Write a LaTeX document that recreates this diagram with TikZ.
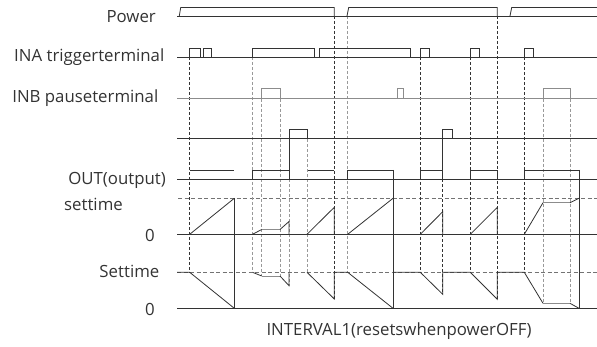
\documentclass[tikz,border=0pt]{standalone}
\usepackage{fontspec}
\setmainfont{Open Sans}
\usepackage{tikz}

\begin{document}
\begin{tikzpicture}[x=1pt, y=-1pt,
  sig/.style={black!80, line width=0.8pt},
  sigg/.style={black!45, line width=0.8pt},
  guide/.style={black!80, line width=0.6pt, dash pattern=on 3pt off 2pt},
  guideg/.style={black!40, line width=0.6pt, dash pattern=on 3pt off 2pt},
  level/.style={black!55, line width=0.7pt, dash pattern=on 4pt off 2.5pt},
  lbl/.style={font=\fontsize{16.8}{19}\selectfont, text=black!80, inner sep=0pt}]
  \useasboundingbox (0,0) rectangle (597,347);
  \node[lbl, anchor=east] (power) at (156,17) {Power};
  \node[lbl, anchor=east] (ina) at (164.5,57) {INA triggerterminal};
  \node[lbl, anchor=east] (inb) at (158.5,98) {INB pauseterminal};
  \node[lbl, anchor=east] (out) at (166,180) {OUT(output)};
  \node[lbl, anchor=west] (settop) at (64,204) {settime};
  \node[lbl, anchor=east] (zerotop) at (155,235) {0};
  \node[lbl, anchor=east] (setbot) at (159.5,271) {Settime};
  \node[lbl, anchor=east] (zerobot) at (155,309) {0};
  \node[lbl] (mode) at (399,331) {INTERVAL1(resetswhenpowerOFF)};
  \draw[level] (178,198.3) -- (597,198.3);
  \draw[level] (177,272.3) -- (597,272.3);
  \draw[guide] (189.7,57) -- (189.7,272.3);
  \draw[guideg] (252.5,57) -- (252.5,272.3);
  \draw[guideg] (261.7,88.7) -- (261.7,276);
  \draw[guideg] (280,88.7) -- (280,276);
  \draw[guideg] (289,179.3) -- (289,285.7);
  \draw[guideg] (307,129.5) -- (307,272.3);
  \draw[guide] (334.3,16) -- (334.3,299);
  \draw[guideg] (347.7,16) -- (347.7,272.3);
  \draw[guide] (420.3,57) -- (420.3,272.3);
  \draw[guide] (442.7,179.3) -- (442.7,294.3);
  \draw[guide] (470.3,57) -- (470.3,272.3);
  \draw[guide] (497.3,16) -- (497.3,299.3);
  \draw[guide] (524.3,57) -- (524.3,272.3);
  \draw[guideg] (543,88.7) -- (543,303.3);
  \draw[guideg] (570,88.7) -- (570,303.3);
  \draw[sig] (177,16) -- (597,16);
  \draw[sig] (179.3,16) -- (180.7,7.5) -- (334.3,7.5) -- (334.3,16);
  \draw[sig] (347,16) -- (348.7,7.5) -- (497.3,7.5) -- (497.3,16);
  \draw[sig] (510,16) -- (511.7,7.5) -- (597,7.5);
  \draw[sig] (177,57) -- (597,57);
  \draw[sig] (189.7,57) |- (200.7,48.3) -- (200.7,57);
  \draw[sig] (203.7,57) |- (211.3,48.3) -- (211.3,57);
  \draw[sig] (252.5,57) |- (314.3,48.3) -- (314.3,57) -- (319,57) |- (410,48.3) -- (410,57);
  \draw[sig] (420.3,57) |- (429.7,48.3) -- (429.7,57);
  \draw[sig] (470.3,57) |- (479.3,48.3) -- (479.3,57);
  \draw[sig] (524.3,57) |- (533.7,48.3) -- (533.7,57);
  \draw[sigg] (177,98) -- (597,98);
  \draw[sigg] (261.7,98) |- (280,88.7) -- (280,98);
  \draw[sigg] (397.7,98) |- (403.3,88.7) -- (403.3,98);
  \draw[sigg] (543,98) |- (570,88.7) -- (570,98);
  \draw[sig] (177,138.3) -- (597,138.3);
  \draw[sig] (289,179.3) |- (307,129.5) -- (307,138.3);
  \draw[sig] (442.7,179.3) |- (452.3,129.5) -- (452.3,138.3);
  \draw[sig] (177,179.3) -- (597,179.3);
  \draw[sig] (189.7,170) -- (234.3,170);
  \draw[sig] (252.5,179.3) |- (289,170) -- (289,179.3);
  \draw[sig] (308.3,170) -- (334.3,170);
  \draw[sig] (347.7,179.3) |- (393,170);
  \draw[sig] (420.3,179.3) |- (442.7,170);
  \draw[sig] (470.3,179.3) |- (497.3,170) -- (497.3,179.3);
  \draw[sig] (524.3,179.3) |- (579,170);
  \draw[sig] (234.3,198.3) -- (234.3,308.3);
  \draw[sig] (393,170) -- (393,308.3);
  \draw[sig] (579,170) -- (579,308.3);
  \draw[sig] (177,234.3) -- (597,234.3);
  \draw[sig] (189.7,234.3) -- (234.3,198.3);
  \draw[sig] (252.5,234.3) -- (261.7,229.5);
  \draw[sigg] (261.7,229.5) -- (280,229.5);
  \draw[sig] (280,229.5) -- (289,221.5) -- (289,234.3);
  \draw[sig] (307,234.3) -- (334.3,207.3) -- (334.3,234.3);
  \draw[sig] (347.7,234.3) -- (393,198.3);
  \draw[sig] (420.3,234.3) -- (442.7,211.7) -- (442.7,234.3);
  \draw[sig] (470.3,234.3) -- (497.3,207.3) -- (497.3,234.3);
  \draw[sig] (524.3,234.3) -- (543,202.7);
  \draw[sigg] (543,202.7) -- (570,202.7);
  \draw[sig] (570,202.7) -- (579,198.3);
  \draw[sig] (177,308.3) -- (597,308.3);
  \draw[sig] (177,272.3) -- (189.7,272.3) -- (234.3,308.3);
  \draw[sig] (252.5,272.3) -- (261.7,276);
  \draw[sigg] (261.7,276) -- (280,276);
  \draw[sig] (280,276) -- (289,285.7) -- (289,272.3);
  \draw[sig] (307,272.3) -- (334.3,299) -- (334.3,272.3) -- (347.7,272.3) -- (393,308.3);
  \draw[sig] (393,272.3) -- (420.3,272.3) -- (442.7,294.3) -- (442.7,272.3) -- (470.3,272.3) -- (497.3,299.3) -- (497.3,272.3) -- (524.3,272.3) -- (543,303.3);
  \draw[sigg] (543,303.3) -- (570,303.3);
  \draw[sig] (570,303.3) -- (579,308.3);
\end{tikzpicture}
\end{document}
